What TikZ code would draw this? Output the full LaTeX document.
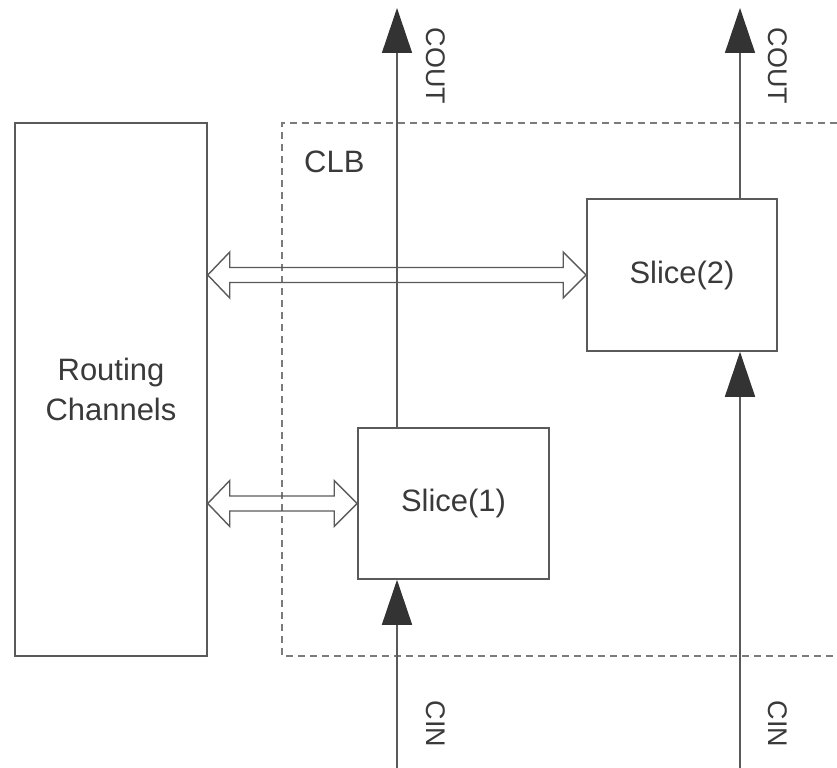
\documentclass[tikz,border=0pt]{standalone}
\usepackage{fontspec}
\setmainfont{Liberation Sans}
\usetikzlibrary{arrows.meta,calc}
\definecolor{ln}{HTML}{5A5A5A}
\definecolor{tx}{HTML}{3A3A3A}
\definecolor{hd}{HTML}{333333}
\tikzset{
  blk/.style={draw=ln,line width=1.3pt,fill=white,inner sep=0pt,text=tx,
    font=\fontsize{26.4}{34}\selectfont,align=center},
  sig/.style={draw=ln,line width=1.3pt,-{Triangle[length=1.35cm,width=0.9cm,fill=hd,color=hd]}},
  lbl/.style={text=tx,font=\fontsize{23}{27}\selectfont,rotate=-90,inner sep=0pt},
  clbline/.style={draw=ln!80,line width=1.1pt,dash pattern=on 0.21cm off 0.15cm},
  hollowline/.style={draw=ln,line width=1.2pt,line join=miter}
}
\newcommand\hollowarrow[2]{%
  \draw[hollowline] let \p1=(#1), \p2=(#2) in
    (\p1) -- ++(22,-23) -- ++(0,15.5)
    -- ($(\x2,\y1)+(-23,-7.5)$) -- ++(0,-15.5) -- (\p2)
    -- ++(-23,23) -- ++(0,-15.5)
    -- ($(\x1,\y1)+(22,7.5)$) -- ++(0,15.5) -- cycle;}
\begin{document}
\begin{tikzpicture}[x=0.03cm,y=-0.03cm]
\useasboundingbox (0,0) rectangle (837,768);
% CLB dashed region
\draw[clbline] (837,123) -- (282,123) -- (282,656) -- (837,656);
\node[text=tx,font=\fontsize{26.4}{31}\selectfont,anchor=base west,inner sep=0pt] (clb) at (304,173) {CLB};
% routing channels
\node[blk,minimum width=5.76cm,minimum height=15.99cm] (rc) at (111,389.5) {Routing\\Channels};
% slices
\node[blk,minimum width=5.73cm,minimum height=4.53cm] (s1) at (453.5,503.5) {Slice(1)};
\node[blk,minimum width=5.7cm,minimum height=4.56cm] (s2) at (682,275) {Slice(2)};
% carry chains
\coordinate (cout1) at (397,8);
\coordinate (cout2) at (740,8);
\coordinate (cin1) at (397,768);
\coordinate (cin2) at (740,768);
\draw[sig] (s1.north -| cout1) -- (cout1);
\draw[sig] (s2.north -| cout2) -- (cout2);
\draw[sig] (cin1) -- (s1.south -| cin1);
\draw[sig] (cin2) -- (s2.south -| cin2);
\node[lbl] (lc1) at (436,66) {COUT};
\node[lbl] (lc2) at (778,66) {COUT};
\node[lbl] (li1) at (436,724) {CIN};
\node[lbl] (li2) at (778,724) {CIN};
% bidirectional buses
\hollowarrow{rc.east |- s2.west}{s2.west}
\hollowarrow{rc.east |- s1.west}{s1.west}
\end{tikzpicture}
\end{document}
